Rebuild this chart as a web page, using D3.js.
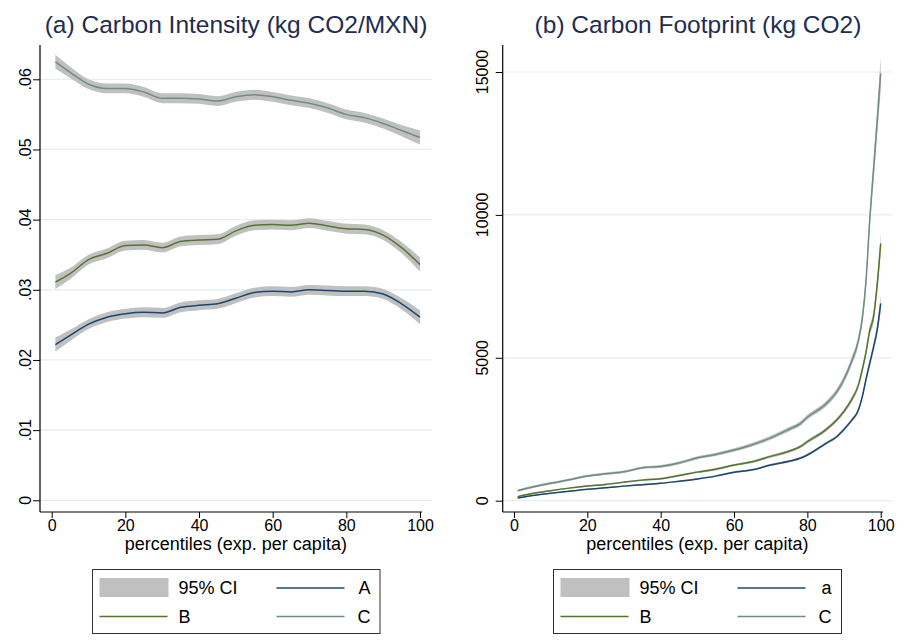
<!DOCTYPE html>
<html>
<head>
<meta charset="utf-8">
<script src="https://cdn.jsdelivr.net/npm/d3@7"></script>
<style>
  html, body { margin: 0; padding: 0; background: #fff; }
  svg { display: block; font-family: "Liberation Sans", Arial, sans-serif; }
</style>
</head>
<body>
<svg id="chart" width="905" height="641"></svg>
<script>
// Panel (a): carbon intensity by expenditure percentile
const pctA = [1, 5, 10, 15, 20, 25, 30, 35, 40, 45, 50, 55, 60, 65, 70, 75, 80, 85, 90, 95, 100];
const intensityA = [0.0222, 0.0235, 0.0251, 0.0261, 0.0266, 0.0268, 0.0267, 0.0275, 0.0278, 0.0280, 0.0288, 0.0296, 0.0298, 0.0297, 0.0300, 0.0299, 0.0298, 0.0298, 0.0294, 0.0280, 0.0261];
const intensityB = [0.0311, 0.0323, 0.0343, 0.0352, 0.0363, 0.0364, 0.0360, 0.0369, 0.0371, 0.0372, 0.0384, 0.0392, 0.0393, 0.0392, 0.0395, 0.0391, 0.0387, 0.0386, 0.0378, 0.0360, 0.0336];
const intensityC = [0.0625, 0.0610, 0.0593, 0.0587, 0.0587, 0.0582, 0.0573, 0.0573, 0.0572, 0.0569, 0.0575, 0.0578, 0.0575, 0.0570, 0.0566, 0.0559, 0.0550, 0.0545, 0.0537, 0.0527, 0.0517];
// 95% CI half-widths for panel (a)
const ciIntensity = [0.0010, 0.0008, 0.0007, 0.0007, 0.0007, 0.0007, 0.0007, 0.0007, 0.0007, 0.0007, 0.0007, 0.0007, 0.0007, 0.0007, 0.0007, 0.0007, 0.0007, 0.0007, 0.0007, 0.0008, 0.0010];

// Panel (b): carbon footprint by expenditure percentile
const pctB = [1, 5, 10, 15, 20, 25, 30, 35, 40, 45, 50, 55, 60, 65, 70, 75, 78, 80, 85, 88, 90, 92, 94, 95, 96, 97, 98, 99, 100];
const footprintA = [94, 180, 259, 330, 399, 450, 510, 560, 608, 680, 760, 860, 993, 1080, 1250, 1380, 1483, 1598, 2000, 2238, 2500, 2800, 3200, 3650, 4250, 4800, 5350, 5950, 6900];
const footprintB = [140, 250, 350, 440, 514, 570, 650, 720, 769, 880, 1000, 1100, 1248, 1360, 1550, 1730, 1888, 2063, 2480, 2822, 3130, 3520, 4080, 4600, 5200, 5950, 6400, 7500, 9000];
const footprintC = [350, 480, 610, 730, 864, 940, 1010, 1150, 1200, 1320, 1500, 1620, 1773, 1960, 2200, 2500, 2690, 2920, 3380, 3810, 4250, 4850, 5650, 6400, 7700, 9800, 11500, 13200, 14950];
// 95% CI half-widths for panel (b)
const ciFootA = [20, 20, 20, 20, 20, 25, 25, 25, 25, 30, 30, 30, 35, 35, 40, 40, 45, 45, 50, 55, 60, 70, 80, 90, 100, 120, 150, 200, 300];
const ciFootB = [25, 25, 25, 25, 25, 30, 30, 30, 30, 35, 35, 40, 40, 45, 50, 50, 55, 60, 65, 70, 80, 90, 100, 120, 140, 170, 200, 260, 350];
const ciFootC = [40, 40, 40, 40, 40, 45, 45, 45, 50, 50, 55, 60, 60, 65, 70, 75, 80, 85, 95, 105, 120, 140, 170, 200, 240, 300, 380, 480, 600];

const ticksX = [0, 20, 40, 60, 80, 100];
const ticksIntensity = [0, 0.01, 0.02, 0.03, 0.04, 0.05, 0.06];
const tickLabelsIntensity = ["0", ".01", ".02", ".03", ".04", ".05", ".06"];
const ticksFootprint = [0, 5000, 10000, 15000];

const colors = { A: "#1a476f", B: "#55752f", C: "#6e8e84", ci: "#c0c0c0", grid: "#e6eef0", title: "#1e2d50" };

const svg = d3.select("#chart");

function drawPanel(cfg) {
  const g = svg.append("g");
  const x = d3.scaleLinear().domain([0, 100]).range([cfg.x0, cfg.x100]);
  const y = d3.scaleLinear().domain(cfg.yDomain).range(cfg.yRange);

  // gridlines
  g.selectAll("line.grid").data(cfg.yTicks).join("line")
    .attr("x1", cfg.axisX).attr("x2", cfg.gridRight)
    .attr("y1", d => y(d)).attr("y2", d => y(d))
    .attr("stroke", colors.grid).attr("stroke-width", 1.2);

  // confidence bands, then the estimate lines on top
  const series = cfg.series;
  series.forEach(s => {
    const pts = cfg.pct.map((p, i) => ({ p, lo: s.values[i] - s.ci[i], hi: s.values[i] + s.ci[i] }));
    const area = d3.area().x(d => x(d.p)).y0(d => y(d.lo)).y1(d => y(d.hi)).curve(d3.curveMonotoneX);
    g.append("path").attr("d", area(pts)).attr("fill", colors.ci);
  });
  series.forEach(s => {
    const pts = cfg.pct.map((p, i) => ({ p, v: s.values[i] }));
    const line = d3.line().x(d => x(d.p)).y(d => y(d.v)).curve(d3.curveMonotoneX);
    g.append("path").attr("d", line(pts)).attr("fill", "none")
      .attr("stroke", s.color).attr("stroke-width", 1.5);
  });

  // y axis
  g.append("line").attr("x1", cfg.axisX).attr("x2", cfg.axisX)
    .attr("y1", cfg.axisTop).attr("y2", cfg.axisBottom).attr("stroke", "#000").attr("stroke-width", 1.2);
  const yAxis = d3.axisLeft(y).tickValues(cfg.yTicks).tickSize(7);
  const ya = g.append("g").attr("transform", `translate(${cfg.axisX},0)`).call(yAxis);
  ya.select(".domain").remove();
  ya.selectAll("text").remove();
  g.selectAll("text.ylab").data(cfg.yTicks).join("text")
    .attr("transform", d => `translate(${cfg.axisX - cfg.yLabelOffset},${y(d)}) rotate(-90)`)
    .attr("text-anchor", "middle").attr("font-size", 16).attr("fill", "#000")
    .text((d, i) => cfg.yLabels[i]);

  // x axis
  g.append("line").attr("x1", cfg.axisX).attr("x2", cfg.axisRight)
    .attr("y1", cfg.axisBottom).attr("y2", cfg.axisBottom).attr("stroke", "#000").attr("stroke-width", 1.2);
  const xAxis = d3.axisBottom(x).tickValues(ticksX).tickSize(6).tickPadding(2);
  const xa = g.append("g").attr("transform", `translate(0,${cfg.axisBottom})`).call(xAxis);
  xa.select(".domain").remove();
  xa.selectAll("text").attr("font-size", 16).attr("fill", "#000").attr("font-family", null);
  g.append("text").attr("x", (cfg.x0 + cfg.x100) / 2).attr("y", 550)
    .attr("text-anchor", "middle").attr("font-size", 18).text("percentiles (exp. per capita)");

  // title
  g.append("text").attr("x", cfg.titleX).attr("y", 33)
    .attr("text-anchor", "middle").attr("font-size", 24.5).attr("fill", colors.title).text(cfg.title);

  // legend
  const L = cfg.legend;
  g.append("rect").attr("x", L.x).attr("y", 569.5).attr("width", L.w).attr("height", 64)
    .attr("fill", "#fff").attr("stroke", "#333").attr("stroke-width", 1);
  g.append("rect").attr("x", L.x + 7).attr("y", 578).attr("width", 69).attr("height", 19).attr("fill", colors.ci);
  const items = [
    { lx: L.x + 7, tx: L.x + 86, y: 616.5, color: colors.B, label: L.labels[1], anchor: "start" },
    { lx: L.x + 184, tx: L.x + 278, y: 588, color: colors.A, label: L.labels[0], anchor: "end" },
    { lx: L.x + 184, tx: L.x + 278, y: 616.5, color: colors.C, label: L.labels[2], anchor: "end" }
  ];
  g.append("text").attr("x", L.x + 86).attr("y", 588).attr("dy", "0.35em")
    .attr("font-size", 18).text("95% CI");
  items.forEach(it => {
    g.append("line").attr("x1", it.lx).attr("x2", it.lx + 68).attr("y1", it.y).attr("y2", it.y)
      .attr("stroke", it.color).attr("stroke-width", 1.5);
    g.append("text").attr("x", it.tx).attr("y", it.y).attr("dy", "0.35em")
      .attr("text-anchor", it.anchor).attr("font-size", 18).text(it.label);
  });
}

drawPanel({
  title: "(a) Carbon Intensity (kg CO2/MXN)", titleX: 236,
  x0: 51.7, x100: 420, axisX: 40, axisRight: 422, gridRight: 432, axisTop: 45, axisBottom: 512,
  yDomain: [0, 0.06], yRange: [500.3, 79.3], yTicks: ticksIntensity, yLabels: tickLabelsIntensity,
  yLabelOffset: 9,
  pct: pctA,
  series: [
    { values: intensityA, ci: ciIntensity, color: colors.A },
    { values: intensityB, ci: ciIntensity, color: colors.B },
    { values: intensityC, ci: ciIntensity, color: colors.C }
  ],
  legend: { x: 92.5, w: 287.5, labels: ["A", "B", "C"] }
});

drawPanel({
  title: "(b) Carbon Footprint (kg CO2)", titleX: 698,
  x0: 514, x100: 880.7, axisX: 502.7, axisRight: 883, gridRight: 892, axisTop: 45, axisBottom: 512,
  yDomain: [0, 15000], yRange: [500.7, 72], yTicks: ticksFootprint, yLabels: ticksFootprint.map(String),
  yLabelOffset: 15,
  pct: pctB,
  series: [
    { values: footprintA, ci: ciFootA, color: colors.A },
    { values: footprintB, ci: ciFootB, color: colors.B },
    { values: footprintC, ci: ciFootC, color: colors.C }
  ],
  legend: { x: 553.5, w: 288, labels: ["a", "B", "C"] }
});
</script>
</body>
</html>
